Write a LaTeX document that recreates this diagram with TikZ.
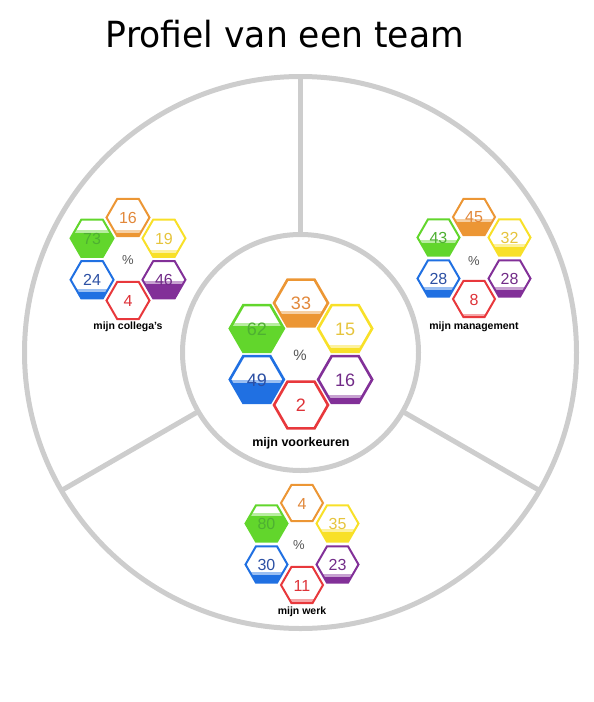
\documentclass[tikz,border=0pt]{standalone}
\usepackage{fontspec}
\setsansfont{Liberation Sans}
\newfontfamily\titlefont[FakeStretch=0.96]{DejaVu Sans}
\definecolor{ring}{RGB}{205,205,205}
\definecolor{hor}{RGB}{236,150,52}
\definecolor{hortxt}{RGB}{226,136,58}
\definecolor{hye}{RGB}{248,224,40}
\definecolor{hyetxt}{RGB}{230,196,60}
\definecolor{hgr}{RGB}{98,214,44}
\definecolor{hgrtxt}{RGB}{78,176,50}
\definecolor{hbl}{RGB}{32,112,226}
\definecolor{hbltxt}{RGB}{44,80,164}
\definecolor{hpu}{RGB}{130,48,152}
\definecolor{hputxt}{RGB}{114,44,136}
\definecolor{hre}{RGB}{232,56,60}
\definecolor{hretxt}{RGB}{222,50,56}
\definecolor{pct}{RGB}{85,85,85}
\tikzset{
  ringline/.style={draw=ring, line width=5},
  ringcircle/.style={circle, ringline, inner sep=0, outer sep=0},
  hexline/.style={line width=2},
  numtext/.style={font=\sffamily\fontsize{16}{16}\selectfont},
  pcttext/.style={text=pct, font=\sffamily\fontsize{13}{13}\selectfont},
  lbltext/.style={font=\sffamily\bfseries\fontsize{10.5}{10.5}\selectfont},
}
\newcommand{\hexcell}[6]{%
  \pgfmathsetmacro\hs{#4}%
  \pgfmathsetmacro\hh{0.866*#4}%
  \pgfmathsetmacro\hf{\hh-2*\hh*#6/100}%
  \pgfmathsetmacro\hb{min(3,2*\hh*#6/100)}%
  \begin{scope}[shift={(#2,#3)}]
    \path[fill=white] (-\hs,0) -- (-\hs/2,-\hh) -- (\hs/2,-\hh) -- (\hs,0) -- (\hs/2,\hh) -- (-\hs/2,\hh) -- cycle;
    \begin{scope}
      \clip (-\hs,0) -- (-\hs/2,-\hh) -- (\hs/2,-\hh) -- (\hs,0) -- (\hs/2,\hh) -- (-\hs/2,\hh) -- cycle;
      \fill[#5] (-\hs,\hh) rectangle (\hs,\hf);
      \fill[#5!45!white] (-\hs,\hf) rectangle (\hs,\hf+\hb);
    \end{scope}
    \draw[#5, hexline] (-\hs,0) -- (-\hs/2,-\hh) -- (\hs/2,-\hh) -- (\hs,0) -- (\hs/2,\hh) -- (-\hs/2,\hh) -- cycle;
    \node[numtext, text=#5txt] (#1) at (0,0.5) {#6};
  \end{scope}}
\begin{document}
\begin{tikzpicture}[x=1pt, y=-1pt]
\useasboundingbox (0,0) rectangle (594,702);
\node[font=\titlefont\fontsize{36}{36}\selectfont, anchor=base] (title) at (285,47) {Profiel van een team};
% rings and spokes
\node[ringcircle, minimum size=552] (outer) at (300.5,352.5) {};
\node[ringcircle, minimum size=236] (inner) at (300.5,352.5) {};
\draw[ringline] (inner.90) -- (outer.90);
\draw[ringline] (inner.210) -- (outer.210);
\draw[ringline] (inner.330) -- (outer.330);
% left cluster: mijn collega's
\begin{scope}[shift={(128,259)}]
  \def\s{21.5}\def\R{41.5}
  \hexcell{c1}{0}{-\R}{\s}{hor}{16}
  \hexcell{c2}{-0.866*\R}{-0.5*\R}{\s}{hgr}{73}
  \hexcell{c3}{0.866*\R}{-0.5*\R}{\s}{hye}{19}
  \hexcell{c4}{-0.866*\R}{0.5*\R}{\s}{hbl}{24}
  \hexcell{c5}{0.866*\R}{0.5*\R}{\s}{hpu}{46}
  \hexcell{c6}{0}{\R}{\s}{hre}{4}
  \node[pcttext] (cp) at (0,1) {\%};
  \node[lbltext] (cl) at (0,68) {mijn collega's};
\end{scope}
% right cluster: mijn management
\begin{scope}[shift={(474,258)}]
  \def\s{21}\def\R{41}
  \hexcell{m1}{0}{-\R}{\s}{hor}{45}
  \hexcell{m2}{-0.866*\R}{-0.5*\R}{\s}{hgr}{43}
  \hexcell{m3}{0.866*\R}{-0.5*\R}{\s}{hye}{32}
  \hexcell{m4}{-0.866*\R}{0.5*\R}{\s}{hbl}{28}
  \hexcell{m5}{0.866*\R}{0.5*\R}{\s}{hpu}{28}
  \hexcell{m6}{0}{\R}{\s}{hre}{8}
  \node[pcttext] (mp) at (0,3) {\%};
  \node[lbltext] (ml) at (0,69) {mijn management};
\end{scope}
% bottom cluster: mijn werk
\begin{scope}[shift={(302,544)}]
  \def\s{21}\def\R{41}
  \hexcell{w1}{0}{-\R}{\s}{hor}{4}
  \hexcell{w2}{-0.866*\R}{-0.5*\R}{\s}{hgr}{80}
  \hexcell{w3}{0.866*\R}{-0.5*\R}{\s}{hye}{35}
  \hexcell{w4}{-0.866*\R}{0.5*\R}{\s}{hbl}{30}
  \hexcell{w5}{0.866*\R}{0.5*\R}{\s}{hpu}{23}
  \hexcell{w6}{0}{\R}{\s}{hre}{11}
  \node[pcttext] (wp) at (-3,1) {\%};
  \node[lbltext] (wl) at (0,68) {mijn werk};
\end{scope}
% centre cluster: mijn voorkeuren
\begin{scope}[shift={(301,354)}, hexline/.style={line width=2.6}, numtext/.style={font=\sffamily\fontsize{18}{18}\selectfont}]
  \def\s{27}\def\R{51}
  \hexcell{v1}{0}{-\R}{\s}{hor}{33}
  \hexcell{v2}{-0.866*\R}{-0.5*\R}{\s}{hgr}{62}
  \hexcell{v3}{0.866*\R}{-0.5*\R}{\s}{hye}{15}
  \hexcell{v4}{-0.866*\R}{0.5*\R}{\s}{hbl}{49}
  \hexcell{v5}{0.866*\R}{0.5*\R}{\s}{hpu}{16}
  \hexcell{v6}{0}{\R}{\s}{hre}{2}
  \node[pcttext, font=\sffamily\fontsize{15}{15}\selectfont] (vp) at (-1,1) {\%};
  \node[lbltext, font=\sffamily\bfseries\fontsize{12.5}{12.5}\selectfont] (vl) at (0,89) {mijn voorkeuren};
\end{scope}
\end{tikzpicture}
\end{document}
